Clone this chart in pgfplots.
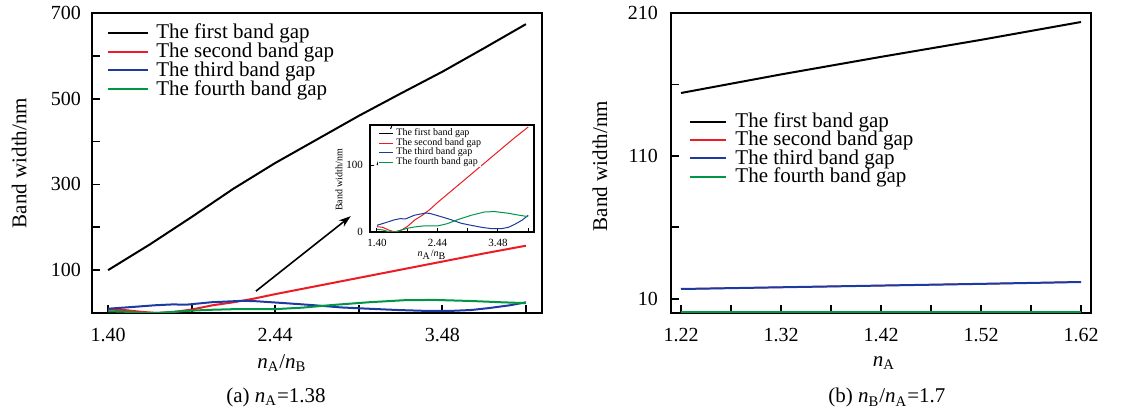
\documentclass[border=0pt]{standalone}
\usepackage{fontspec}
\setmainfont{Liberation Serif}
\usepackage{pgfplots}
\usepackage{pgfplotstable}
\pgfplotsset{compat=1.18}
\usetikzlibrary{arrows.meta}

\definecolor{gapred}{RGB}{237,28,36}
\definecolor{gapblue}{RGB}{28,58,160}
\definecolor{gapgreen}{RGB}{0,150,70}

% (a) n_A = 1.38, band width against n_A/n_B
\pgfplotstableread{
x y
1.40 100
1.66 160
1.92 224
2.18 290
2.44 350
2.70 405
2.96 460
3.22 512
3.48 563
3.74 618
4.00 674
}\firstA
\pgfplotstableread{
x y
1.40 8
1.50 7
1.60 3
1.70 0
1.80 2
1.92 8
2.05 18
2.18 25
2.30 33
2.44 44
2.70 63
2.96 82
3.22 101
3.48 120
3.74 139
4.00 157
}\secondA
\pgfplotstableread{
x y
1.40 10
1.55 14
1.69 18
1.80 20
1.89 19.5
2.04 25
2.24 28.5
2.32 27.5
2.50 23
2.67 18.5
2.85 13
3.02 10
3.20 7
3.37 5
3.54 5
3.66 7
3.77 11.5
3.90 18
4.00 25
}\thirdA
\pgfplotstableread{
x y
1.40 4
1.50 3
1.60 0.5
1.70 0
1.80 2.5
1.92 5.5
2.04 7.5
2.19 9
2.44 9
2.61 12.5
2.79 18.5
3.02 25
3.25 30
3.43 30.5
3.66 28
3.85 25
4.00 23
}\fourthA

% (b) n_B/n_A = 1.7, band width against n_A
\pgfplotstableread{
x first second third fourth
1.22 154.0 16.8 16.8 0.5
1.32 167.0 18.0 18.0 0.5
1.42 179.3 19.2 19.2 0.5
1.52 191.2 20.4 20.4 0.5
1.62 203.7 21.7 21.7 0.5
}\gapsB

\pgfplotsset{
  bandaxis/.style={scale only axis, anchor=south west, clip mode=individual,
    axis line style={line width=1pt}, tick style={line width=0.9pt, black},
    tick align=inside, xtick pos=bottom, ytick pos=left, major tick length=4pt,
    tick label style={font=\fontsize{10}{12}\selectfont},
    label style={font=\fontsize{10.5}{12}\selectfont},
    legend cell align=left,
    every axis plot/.append style={line width=1pt}},
}

\begin{document}
\begin{tikzpicture}
\path[use as bounding box] (0,0) rectangle (571pt,209pt);

\begin{axis}[bandaxis, at={(46pt,52.5pt)}, width=225pt, height=150pt,
    xmin=1.30, xmax=4.10, ymin=0, ymax=700,
    xtick={1.40,1.92,2.44,2.96,3.48,4.00}, xticklabels={1.40,,2.44,,3.48,},
    ytick={100,200,300,400,500,600,700}, yticklabels={100,,300,,500,,700},
    xticklabel style={yshift=-4pt}, yticklabel style={xshift=-2pt},
    xlabel={\textit{n}\textsubscript{A}/\textit{n}\textsubscript{B}},
    xlabel style={at={(axis description cs:0.422,-0.167)}, anchor=center},
    ylabel={Band width/nm},
    ylabel style={at={(axis description cs:-0.162,0.5)}, anchor=center},
    legend style={at={(axis description cs:0.033,0.965)}, anchor=north west,
      draw=none, fill=white, inner sep=0pt, row sep=0.6pt, column sep=3.5pt,
      nodes={inner sep=0pt}, font=\fontsize{10.5}{12}\selectfont},
    legend image code/.code={\draw[#1] (0pt,0pt) -- (20pt,0pt);}]
  \addplot[black] table {\firstA};
  \addplot[gapred] table {\secondA};
  \addplot[gapblue] table {\thirdA};
  \addplot[gapgreen] table {\fourthA};
  \legend{The first band gap, The second band gap, The third band gap, The fourth band gap}
  \draw[-{Stealth[length=6pt,width=4pt]}, line width=0.8pt] (axis cs:2.32,51) -- (axis cs:2.91,226);
  \node[font=\fontsize{10.5}{12}\selectfont] at (axis description cs:0.409,-0.28)
    {(a) \textit{n}\textsubscript{A}=1.38};
\end{axis}

% inset of (a)
\begin{axis}[scale only axis, anchor=south west, at={(185pt,93pt)}, width=82pt, height=53.5pt,
    xmin=1.28, xmax=4.10, ymin=0, ymax=160,
    axis background/.style={fill=white},
    axis line style={line width=0.6pt}, tick style={line width=0.5pt, black},
    tick align=inside, xtick pos=bottom, ytick pos=left, major tick length=2pt,
    xtick={1.40,1.92,2.44,2.96,3.48,4.00}, xticklabels={1.40,,2.44,,3.48,},
    ytick={0,100}, yticklabels={0,100},
    tick label style={font=\fontsize{5.5}{6}\selectfont},
    label style={font=\fontsize{5}{6}\selectfont},
    xlabel={\textit{n}\textsubscript{A}/\textit{n}\textsubscript{B}},
    xlabel style={at={(axis description cs:0.378,-0.215)}, anchor=center},
    ylabel={Band width/nm},
    ylabel style={at={(axis description cs:-0.19,0.486)}, anchor=center},
    legend cell align=left,
    legend style={at={(axis description cs:0.049,0.967)}, anchor=north west,
      draw=none, fill=white, inner sep=0pt, row sep=-0.3pt, column sep=1.5pt,
      nodes={inner sep=0pt}, font=\fontsize{5}{6}\selectfont},
    legend image code/.code={\draw[#1] (0pt,0pt) -- (7pt,0pt);},
    every axis plot/.append style={line width=0.5pt}]
  \addplot[black] table {\firstA};
  \addplot[gapred] table {\secondA};
  \addplot[gapblue] table {\thirdA};
  \addplot[gapgreen] table {\fourthA};
  \legend{The first band gap, The second band gap, The third band gap, The fourth band gap}
\end{axis}

\begin{axis}[bandaxis, at={(335.5pt,52.5pt)}, width=210pt, height=150pt,
    xmin=1.21, xmax=1.63, ymin=0, ymax=210,
    xtick={1.22,1.27,1.32,1.37,1.42,1.47,1.52,1.57,1.62},
    xticklabels={1.22,,1.32,,1.42,,1.52,,1.62},
    ytick={10,60,110,160,210}, yticklabels={10,,110,,210},
    xticklabel style={yshift=-4pt}, yticklabel style={xshift=-3pt},
    xlabel={\textit{n}\textsubscript{A}},
    xlabel style={at={(axis description cs:0.507,-0.167)}, anchor=center},
    ylabel={Band width/nm},
    ylabel style={at={(axis description cs:-0.169,0.49)}, anchor=center},
    legend style={at={(axis description cs:0.043,0.668)}, anchor=north west,
      draw=none, fill=none, inner sep=0pt, row sep=0.3pt, column sep=4pt,
      nodes={inner sep=0pt}, font=\fontsize{10.5}{12}\selectfont},
    legend image code/.code={\draw[#1] (0pt,0pt) -- (18pt,0pt);}]
  \addplot[black] table[y=first] {\gapsB};
  % the second gap lies under the third one here
  \addlegendimage{gapred, line width=1pt}
  \addplot[gapred, line width=0.7pt, forget plot] table[y=second] {\gapsB};
  \addplot[gapblue] table[y=third] {\gapsB};
  \addplot[gapgreen] table[y=fourth] {\gapsB};
  \legend{The first band gap, The second band gap, The third band gap, The fourth band gap}
  \node[font=\fontsize{10.5}{12}\selectfont] at (axis description cs:0.514,-0.283)
    {(b) \textit{n}\textsubscript{B}/\textit{n}\textsubscript{A}=1.7};
\end{axis}
\end{tikzpicture}
\end{document}
